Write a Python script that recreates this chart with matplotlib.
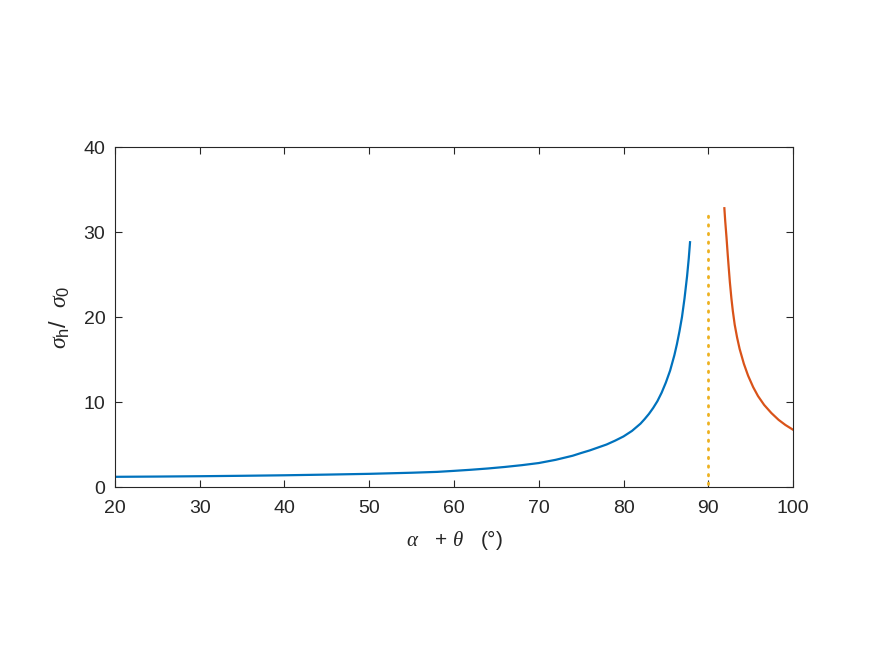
import matplotlib.pyplot as plt

plt.rcParams['font.family'] = ['Liberation Sans', 'DejaVu Sans']
plt.rcParams['mathtext.fontset'] = 'custom'
plt.rcParams['mathtext.rm'] = 'Liberation Sans'
plt.rcParams['mathtext.it'] = 'Liberation Serif:italic'

# datos
x_antes = [20, 25, 30, 35, 40, 45, 50, 55, 58, 60, 62, 64, 66, 68, 70, 72, 74, 75, 76, 77,
           78, 79, 80, 81, 82, 82.5, 83, 83.5, 84, 84.5, 85, 85.5, 86, 86.3, 86.6, 86.9,
           87.2, 87.5, 87.7, 87.85]
y_antes = [1.2, 1.23, 1.27, 1.32, 1.38, 1.46, 1.55, 1.68, 1.78, 1.9, 2.03, 2.18, 2.36, 2.57,
           2.82, 3.2, 3.68, 4.0, 4.3, 4.65, 5.0, 5.45, 5.95, 6.6, 7.45, 8.0, 8.6, 9.3, 10.1,
           11.1, 12.3, 13.7, 15.5, 16.8, 18.3, 20.0, 22.2, 24.8, 26.9, 28.8]

x_despues = [91.9, 92.0, 92.15, 92.3, 92.4, 92.55, 92.73, 92.9, 93.12, 93.4, 93.7, 94.2,
             94.7, 95.3, 95.87, 96.6, 97.45, 98.3, 99.1, 100]
y_despues = [32.8, 31.3, 29.4, 27.3, 26.0, 24.1, 22.2, 20.7, 19.1, 17.6, 16.25, 14.5,
             13.1, 11.75, 10.7, 9.65, 8.7, 7.9, 7.3, 6.74]

x_asintota = [90, 90]
y_asintota = [0.3, 32]

fig = plt.figure(figsize=(8.75, 6.56), dpi=100)
ax = fig.add_axes([0.1314, 0.2576, 0.7749, 0.5183])

ax.plot(x_antes, y_antes, color='#0072BD', lw=1.6)
ax.plot(x_despues, y_despues, color='#D95319', lw=1.6)
ax.plot(x_asintota, y_asintota, color='#EDB120', lw=2, ls=(0, (0.5, 2.6)),
        dash_capstyle='round')

ax.set_xlim(20, 100)
ax.set_ylim(0, 40)
ax.set_xticks(range(20, 101, 10))
ax.set_yticks(range(0, 41, 10))
ax.tick_params(direction='in', top=True, right=True, length=5, width=0.8,
               labelsize=14, colors='#262626')
ax.tick_params(axis='x', pad=9)
ax.tick_params(axis='y', pad=7)
for s in ax.spines.values():
    s.set_color('#262626')
    s.set_linewidth(0.8)

ax.set_xlabel(r'$\alpha$   + $\theta$   (°)', fontsize=15, color='#262626', labelpad=8)
ax.set_ylabel(r'$\sigma_{\rm h}$/  $\sigma_{\rm 0}$', fontsize=17, color='#262626', labelpad=8)

plt.savefig('out.png')
plt.close()
